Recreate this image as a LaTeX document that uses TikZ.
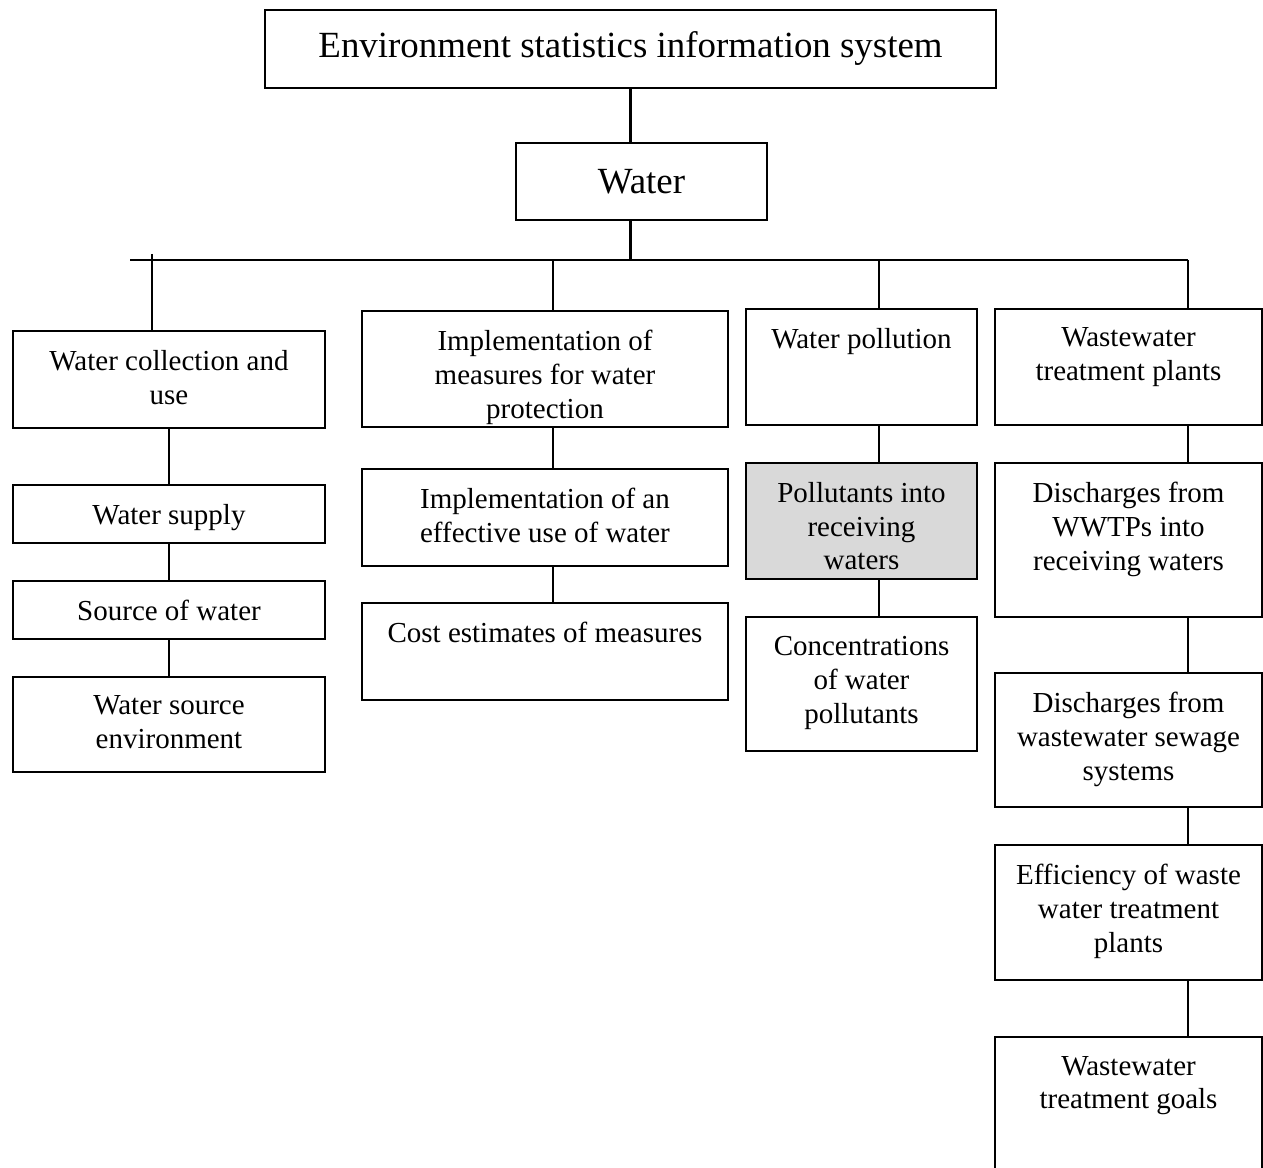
\documentclass[tikz,border=0pt]{standalone}
\usepackage{fontspec}
\setmainfont{Liberation Serif}
\definecolor{fill gray}{HTML}{D9D9D9}
\newcommand{\boxfont}{\fontsize{16.5}{19.3}\selectfont}
\newcommand{\headfont}{\fontsize{21}{25}\selectfont}

\tikzset{
  box/.style = {draw, line width = 1.2pt, inner sep = 0pt},
  box text/.style = {anchor = north, align = center, inner sep = 0pt, font = \boxfont, yshift = -0.38cm},
}

\begin{document}
\begin{tikzpicture}[x = 0.02cm, y = -0.02cm, line width = 1.2pt]
      \clip (0, 0) rectangle (1263, 1168);

      \node[box, minimum width = 14.62cm, minimum height = 1.56cm, font = \headfont] (top) at (630.5, 49) {Environment statistics information system};
      \node[box, minimum width = 5.02cm, minimum height = 1.54cm, font = \headfont] (water) at (641.5, 181.5) {Water};

      % first row
      \node[box, minimum width = 6.24cm, minimum height = 1.94cm, %
        label = {[box text]north:Water collection and\\use}] (coll) at (169, 379.5) {};
      \node[box, minimum width = 7.32cm, minimum height = 2.32cm, %
        label = {[box text]north:Implementation of\\measures for water\\protection}] (prot) at (545, 369) {};
      \node[box, minimum width = 4.62cm, minimum height = 2.32cm, %
        label = {[box text]north:Water pollution}] (poll) at (861.5, 367) {};
      \node[box, minimum width = 5.34cm, minimum height = 2.32cm, %
        label = {[box text]north:Wastewater\\treatment plants}] (plants) at (1128.5, 367) {};

      % water collection
      \node[box, minimum width = 6.24cm, minimum height = 1.16cm, %
        label = {[box text]north:Water supply}] (supply) at (169, 514) {};
      \node[box, minimum width = 6.24cm, minimum height = 1.16cm, %
        label = {[box text]north:Source of water}] (source) at (169, 610) {};
      \node[box, minimum width = 6.24cm, minimum height = 1.9cm, %
        label = {[box text]north:Water source\\environment}] (env) at (169, 724.5) {};

      % protection
      \node[box, minimum width = 7.32cm, minimum height = 1.94cm, %
        label = {[box text]north:Implementation of an\\effective use of water}] (effuse) at (545, 517.5) {};
      \node[box, minimum width = 7.32cm, minimum height = 1.94cm, %
        label = {[box text]north:Cost estimates of measures}] (cost) at (545, 651.5) {};

      % pollution
      \node[box, fill = fill gray, minimum width = 4.62cm, minimum height = 2.32cm, %
        label = {[box text]north:Pollutants into\\receiving\\waters}] (recv) at (861.5, 521) {};
      \node[box, minimum width = 4.62cm, minimum height = 2.68cm, %
        label = {[box text]north:Concentrations\\of water\\pollutants}] (conc) at (861.5, 684) {};

      % treatment plants
      \node[box, minimum width = 5.34cm, minimum height = 3.08cm, %
        label = {[box text]north:Discharges from\\WWTPs into\\receiving waters}] (wwtp) at (1128.5, 540) {};
      \node[box, minimum width = 5.34cm, minimum height = 2.68cm, %
        label = {[box text]north:Discharges from\\wastewater sewage\\systems}] (sewage) at (1128.5, 740) {};
      \node[box, minimum width = 5.34cm, minimum height = 2.7cm, %
        label = {[box text]north:Efficiency of waste\\water treatment\\plants}] (eff) at (1128.5, 912.5) {};
      \node[box, minimum width = 5.34cm, minimum height = 3.26cm, %
        label = {[box text]north:Wastewater\\treatment goals}] (goals) at (1128.5, 1118.5) {};

      % bus
      \coordinate (busL) at (130, 260);
      \coordinate (d1) at (152, 254);
      \coordinate (d2) at (553, 260);
      \coordinate (d3) at (879, 260);
      \coordinate (d4) at (1188, 260);

      \draw (top.south) -- (top.south |- water.north);
      \draw (top.south |- water.south) -- (top.south |- busL);
      \draw (busL) -- (d4);
      \draw (d1) -- (d1 |- coll.north);
      \draw (d2) -- (d2 |- prot.north);
      \draw (d3) -- (d3 |- poll.north);
      \draw (d4) -- (d4 |- plants.north);

      \foreach \a/\b in {coll/supply, supply/source, source/env} {\draw (\a.south) -- (\b.north);}
      \foreach \a/\b in {prot/effuse, effuse/cost} {\draw (d2 |- \a.south) -- (d2 |- \b.north);}
      \foreach \a/\b in {poll/recv, recv/conc} {\draw (d3 |- \a.south) -- (d3 |- \b.north);}
      \foreach \a/\b in {plants/wwtp, wwtp/sewage, sewage/eff, eff/goals} {\draw (d4 |- \a.south) -- (d4 |- \b.north);}
    \end{tikzpicture}
\end{document}
